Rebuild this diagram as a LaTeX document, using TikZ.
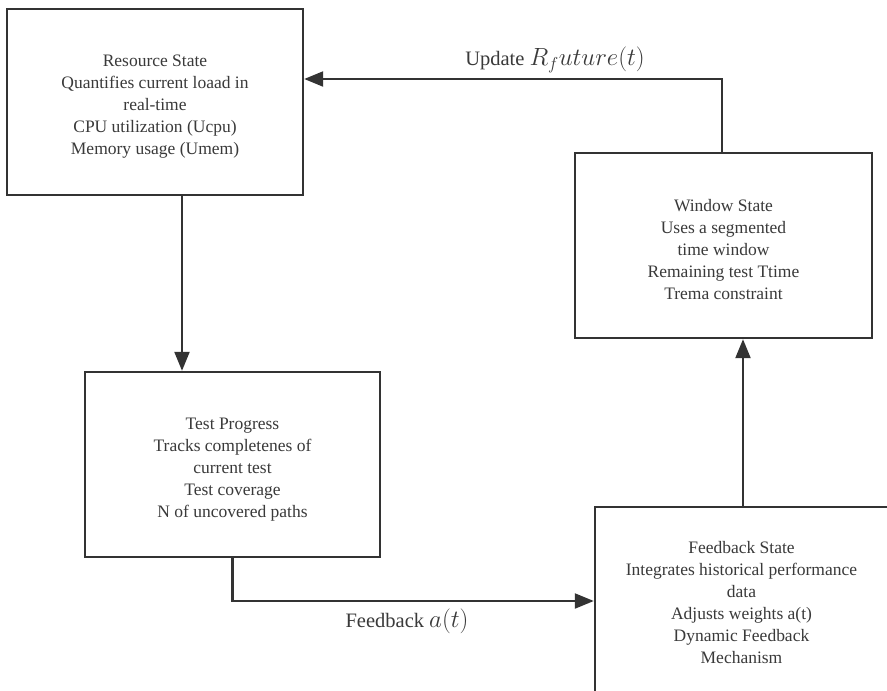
\documentclass[tikz,border=0pt]{standalone}
\usepackage{fontspec}
\setmainfont{Liberation Serif}
\usetikzlibrary{arrows.meta}
\definecolor{ink}{HTML}{333333}
\definecolor{txt}{HTML}{3A3A3A}
\newcommand{\toppad}{\rule{0pt}{21pt}}
\begin{document}
\begin{tikzpicture}[x=1pt,y=-1pt,
  box/.style={draw=ink, line width=2.4pt, align=center, text=txt,
    font=\fontsize{17.5}{22}\selectfont, inner sep=0pt},
  conn/.style={draw=ink, line width=2.2pt, -{Triangle[length=19pt,width=15pt]}},
  lbl/.style={text=txt, font=\fontsize{20.5}{24}\selectfont, inner sep=0pt}]
\useasboundingbox (0,0) rectangle (887,691);
\clip (0,0) rectangle (887,691);
\fill[white] (0,0) rectangle (887,691);

\node[box, minimum width=296pt, minimum height=186pt] (res) at (155,102)
  {\toppad Resource State\\Quantifies current loaad in\\real-time\\CPU utilization (Ucpu)\\Memory usage (Umem)};
\node[box, minimum width=295pt, minimum height=185pt] (test) at (232.5,464.5)
  {\toppad Test Progress\\Tracks completenes of\\current test\\Test coverage\\N of uncovered paths};
\node[box, minimum width=297pt, minimum height=185pt] (win) at (723.5,245.5)
  {\toppad Window State\\Uses a segmented\\time window\\Remaining test Ttime\\Trema constraint};
\node[box, minimum width=293pt, minimum height=192pt] (fb) at (741.5,603)
  {Feedback State\\Integrates historical performance\\data\\Adjusts weights a(t)\\Dynamic Feedback\\Mechanism};

\draw[conn] ([xshift=27pt]res.south) -- ([xshift=27pt]res.south |- test.north);
\draw[conn] (test.south) |- ([yshift=2pt]fb.west);
\draw[conn] ([xshift=1.5pt]fb.north) -- ([xshift=1.5pt]fb.north |- win.south);
\draw[conn] ([xshift=-1.5pt]win.north) |- ([yshift=23pt]res.east);

\node[lbl] (lup) at (555,60) {Update {\fontsize{24.5}{28}\selectfont$R_future(t)$}};
\node[lbl] (lfb) at (407,621) {Feedback {\fontsize{24.5}{28}\selectfont$a(t)$}};
\end{tikzpicture}
\end{document}
